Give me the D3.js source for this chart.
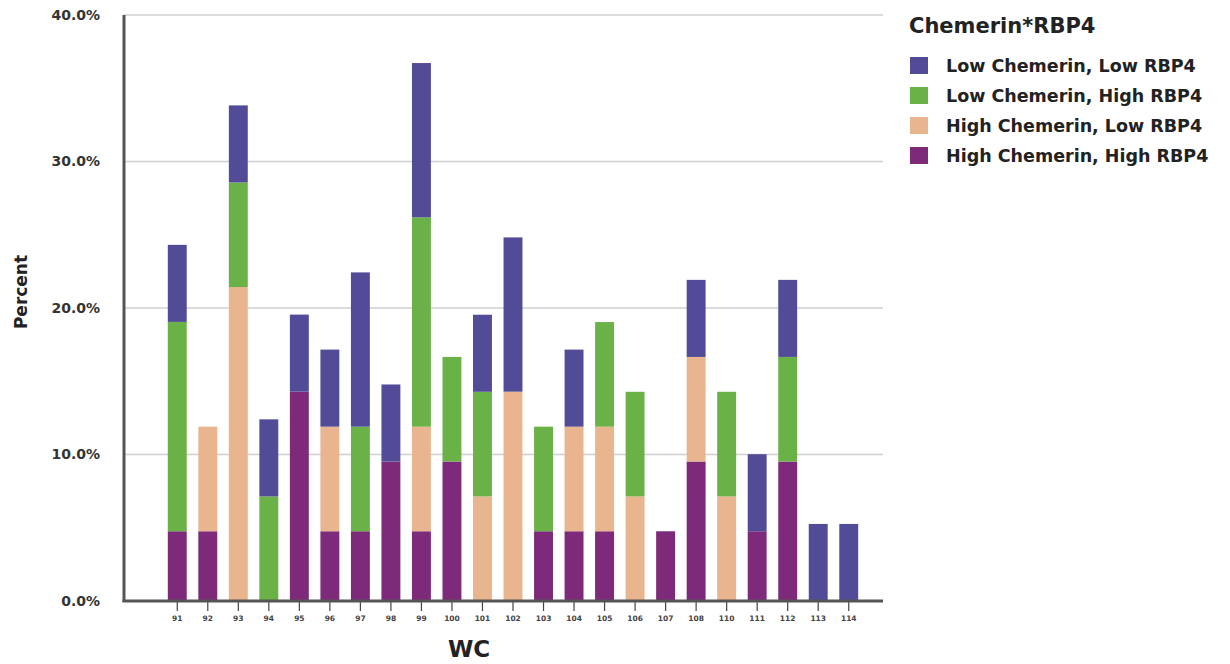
<!DOCTYPE html>
<html>
<head>
<meta charset="utf-8">
<script src="https://cdn.jsdelivr.net/npm/d3@7"></script>
<style>
  html, body { margin: 0; padding: 0; background: #fff; }
  svg { display: block; font-family: "DejaVu Sans", "Liberation Sans", Arial, sans-serif; }
</style>
</head>
<body>
<svg id="chart" width="1230" height="664"></svg>
<script>
// ---- Data ----
const categories = ["91","92","93","94","95","96","97","98","99","100","101","102","103","104","105","106","107","108","110","111","112","113","114"];
const seriesNames = ["High Chemerin, High RBP4","High Chemerin, Low RBP4","Low Chemerin, High RBP4","Low Chemerin, Low RBP4"];
const legendOrder = ["Low Chemerin, Low RBP4","Low Chemerin, High RBP4","High Chemerin, Low RBP4","High Chemerin, High RBP4"];
// percent values per category (stack bottom -> top)
const highHigh = [4.76,4.76,0,0,14.29,4.76,4.76,9.52,4.76,9.52,0,0,4.76,4.76,4.76,0,4.76,9.52,0,4.76,9.52,0,0];
const highLow  = [0,7.14,21.43,0,0,7.14,0,0,7.14,0,7.14,14.29,0,7.14,7.14,7.14,0,7.14,7.14,0,0,0,0];
const lowHigh  = [14.29,0,7.14,7.14,0,0,7.14,0,14.29,7.14,7.14,0,7.14,0,7.14,7.14,0,0,7.14,0,7.14,0,0];
const lowLow   = [5.26,0,5.26,5.26,5.26,5.26,10.53,5.26,10.53,0,5.26,10.53,0,5.26,0,0,0,5.26,0,5.26,5.26,5.26,5.26];
const yTicks = [0,10,20,30,40];
const colors = {
  "Low Chemerin, Low RBP4": "#524b98",
  "Low Chemerin, High RBP4": "#6ab147",
  "High Chemerin, Low RBP4": "#e8b58e",
  "High Chemerin, High RBP4": "#7c2a79"
};

// ---- Build table ----
const seriesArrays = [highHigh, highLow, lowHigh, lowLow];
const table = categories.map((c, i) => {
  const row = { cat: c };
  seriesNames.forEach((s, k) => row[s] = seriesArrays[k][i]);
  return row;
});
const stacked = d3.stack().keys(seriesNames)(table);

// ---- Layout ----
const FONT = "'DejaVu Sans', 'Liberation Sans', Arial, sans-serif";
const svg = d3.select("#chart");
const axisX0 = 124, axisX1 = 883, axisY = 601, topY = 15;
const x = d3.scaleBand().domain(categories).range([162, 864]).paddingInner(0.38).paddingOuter(0.19);
const y = d3.scaleLinear().domain([0, 40]).range([axisY, topY]);

// gridlines
svg.append("g").selectAll("line").data(yTicks.filter(d => d > 0)).join("line")
  .attr("x1", axisX0).attr("x2", axisX1)
  .attr("y1", d => y(d)).attr("y2", d => y(d))
  .attr("stroke", "#cfcfcf").attr("stroke-width", 1.5);

// bars
svg.append("g").selectAll("g").data(stacked).join("g")
  .attr("fill", d => colors[d.key])
  .selectAll("rect").data(d => d).join("rect")
  .attr("x", d => x(d.data.cat))
  .attr("width", x.bandwidth())
  .attr("y", d => y(d[1]))
  .attr("height", d => y(d[0]) - y(d[1]));

// y axis labels
const yAxis = d3.axisLeft(y).tickValues(yTicks).tickFormat(d => d3.format(".1f")(d) + "%").tickSize(0).tickPadding(24);
const gy = svg.append("g").attr("transform", `translate(${axisX0},0)`).call(yAxis);
gy.select(".domain").remove();
gy.selectAll("text").attr("font-size", 14).attr("font-weight", "bold").attr("fill", "#333")
  .attr("font-family", FONT);

// x axis
const xAxis = d3.axisBottom(x).tickSize(10).tickPadding(5);
const gx = svg.append("g").attr("transform", `translate(0,${axisY})`).call(xAxis);
gx.select(".domain").remove();
gx.selectAll(".tick line").attr("stroke", "#444").attr("stroke-width", 1.2);
gx.selectAll("text").attr("font-size", 7.5).attr("font-weight", "bold").attr("fill", "#444")
  .attr("font-family", FONT);

// axis lines
svg.append("line").attr("x1", axisX0).attr("x2", axisX0).attr("y1", topY).attr("y2", axisY + 1)
  .attr("stroke", "#555").attr("stroke-width", 3);
svg.append("line").attr("x1", axisX0 - 1.5).attr("x2", axisX1).attr("y1", axisY).attr("y2", axisY)
  .attr("stroke", "#555").attr("stroke-width", 3);

// axis titles
svg.append("text").attr("transform", "translate(27,292) rotate(-90)")
  .attr("text-anchor", "middle").attr("font-size", 17).attr("font-weight", "bold").attr("fill", "#222")
  .text("Percent");
svg.append("text").attr("x", 469).attr("y", 657)
  .attr("text-anchor", "middle").attr("font-size", 23).attr("font-weight", "bold").attr("fill", "#222")
  .text("WC");

// legend
const lg = svg.append("g");
lg.append("text").attr("x", 909).attr("y", 33).attr("font-size", 21).attr("font-weight", "bold").attr("fill", "#222")
  .text("Chemerin*RBP4");
const rows = lg.selectAll("g.row").data(legendOrder).join("g").attr("class", "row")
  .attr("transform", (d, i) => `translate(910,${57 + i * 30})`);
rows.append("rect").attr("width", 18).attr("height", 17).attr("fill", d => colors[d]);
rows.append("text").attr("x", 36).attr("y", 15).attr("font-size", 17.5).attr("font-weight", "bold").attr("fill", "#222")
  .text(d => d);
</script>
</body>
</html>
